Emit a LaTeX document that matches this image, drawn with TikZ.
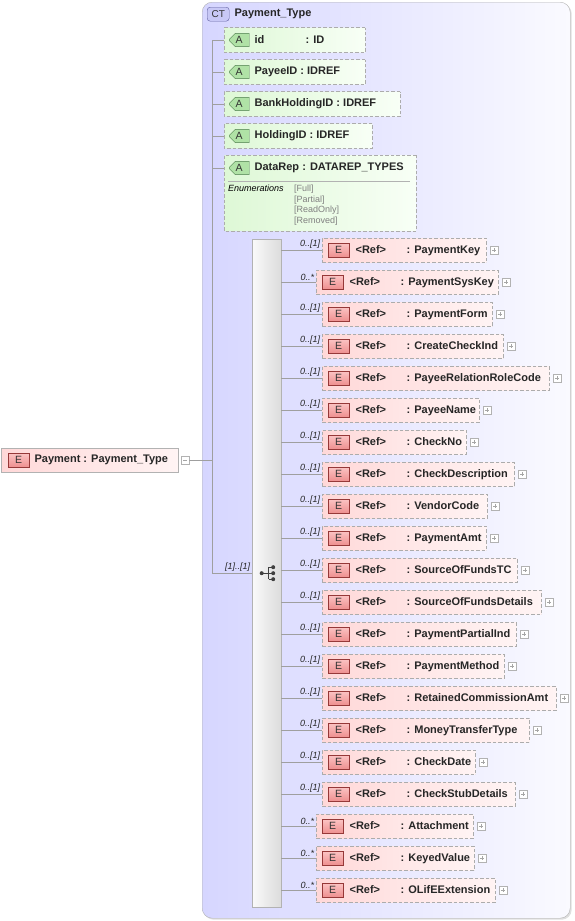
\documentclass[tikz,border=0pt]{standalone}
\usepackage{fontspec}
\setmainfont{Liberation Sans}
\usetikzlibrary{positioning,calc,shapes.misc,shadows}
\definecolor{ctL}{RGB}{214,214,255}
\definecolor{ctR}{RGB}{250,250,255}
\definecolor{ctline}{RGB}{96,96,160}
\definecolor{ctiF}{RGB}{200,200,246}
\definecolor{elemL}{RGB}{255,216,216}
\definecolor{elemR}{RGB}{255,244,244}
\definecolor{eline}{RGB}{150,56,56}
\definecolor{eiconT}{RGB}{252,196,196}
\definecolor{eiconB}{RGB}{238,144,144}
\definecolor{attrL}{RGB}{222,248,214}
\definecolor{attrR}{RGB}{248,255,246}
\definecolor{aline}{RGB}{76,124,76}
\definecolor{aiconF}{RGB}{176,226,166}

\begin{document}
\begin{tikzpicture}[x=1pt, y=-1pt,
  every node/.style={inner sep=0pt},
  txt/.style={font=\fontsize{11}{13}\selectfont\bfseries, text=black!85},
  occ/.style={font=\fontsize{9}{10}\selectfont\itshape, text=black!85, inner sep=1.5pt},
  conn/.style={draw=gray!75, line width=0.6pt},
  dashbox/.style={draw=gray!65, line width=0.8pt, dash pattern=on 3.5pt off 2pt},
  elem/.style={dashbox, left color=elemL, right color=elemR, minimum height=24pt,
    drop shadow={shadow xshift=1pt, shadow yshift=-1pt, opacity=.15}},
  eicon/.style={draw=eline, top color=eiconT, bottom color=eiconB, minimum width=21pt,
    minimum height=14pt, font=\fontsize{10.5}{12}\selectfont, text=black!80},
  attr/.style={dashbox, chamfered rectangle, chamfered rectangle corners={north west,south west},
    chamfered rectangle xsep=5pt, chamfered rectangle ysep=6pt, left color=attrL,
    right color=attrR, minimum height=25pt},
  aicon/.style={draw=aline, fill=aiconF, chamfered rectangle,
    chamfered rectangle corners={north west,south west}, chamfered rectangle xsep=3pt,
    chamfered rectangle ysep=3pt, minimum width=20pt, minimum height=13pt,
    font=\fontsize{10.5}{12}\selectfont, text=black!80},
  ctbox/.style={draw=gray!60, rounded corners=10pt, left color=ctL, right color=ctR,
    drop shadow={shadow xshift=1.5pt, shadow yshift=-1.5pt, opacity=.25}},
  cticon/.style={draw=ctline, fill=ctiF, rounded corners=3pt, minimum width=22pt,
    minimum height=14pt, font=\fontsize{10}{12}\selectfont, text=black!80},
  seqbar/.style={draw=gray!60, left color=gray!4, right color=gray!28,
    drop shadow={shadow xshift=1pt, shadow yshift=-1pt, opacity=.2}},
  sqbox/.style={draw=gray!60, fill=white, minimum size=8pt, line width=0.5pt},
  minusbox/.style={sqbox, path picture={\draw[gray!70, line width=0.5pt]
    ([xshift=2pt]path picture bounding box.west) -- ([xshift=-2pt]path picture bounding box.east);}},
  plusbox/.style={sqbox, path picture={\draw[gray!70, line width=0.5pt]
    ([xshift=2pt]path picture bounding box.west) -- ([xshift=-2pt]path picture bounding box.east)
    ([yshift=-2pt]path picture bounding box.north) -- ([yshift=2pt]path picture bounding box.south);}},
  enumtxt/.style={font=\fontsize{9}{10.5}\selectfont, align=left},
]
\def\one{0..[1]}
\def\many{0..*}
\useasboundingbox (0,0) rectangle (575,921);

\node[ctbox, anchor=north west, minimum width=368pt, minimum height=916pt] (ct) at (202,2) {};
\node[cticon, anchor=north west] (ct-icon) at (207,7) {CT};
\node[txt, right=5pt of ct-icon] (ct-name) {Payment\_Type};

\coordinate (trunk top) at (212,40);
\coordinate (trunk bot) at (212,573);
\draw[conn] (trunk top) -- (trunk bot);

\foreach \nm/\tp/\rx [count=\i from 0] in {{\makebox[48pt][l]{id}}/ID/365,
    PayeeID/IDREF/365, BankHoldingID/IDREF/400, HoldingID/IDREF/372} {
  \pgfmathsetmacro\yy{40+32*\i}
  \node[attr, anchor=west, minimum width={(\rx-224)*1pt}] (a\i) at (224,\yy) {};
  \node[aicon, right=5pt of a\i.west] (a\i-icon) {A};
  \node[txt, right=5pt of a\i-icon] (a\i-name) {\nm\ : \tp};
  \draw[conn] (trunk top |- a\i.west) -- (a\i.west);
}

\node[attr, anchor=west, minimum width=192pt, minimum height=76pt] (a4) at (224,193) {};
\coordinate (a4-head) at (224,168);
\node[aicon, right=5pt of a4-head] (a4-icon) {A};
\node[txt, right=5pt of a4-icon] (a4-name) {DataRep : DATAREP\_TYPES};
\draw[gray!60, line width=0.6pt] (228,181.5) -- (410,181.5);
\node[enumtxt, font=\fontsize{9}{10.5}\selectfont\itshape, anchor=north west] (a4-enum) at (228,185) {Enumerations};
\node[enumtxt, text=gray, anchor=north west] (a4-vals) at (294,185)
  {[Full]\\{}[Partial]\\{}[ReadOnly]\\{}[Removed]};
\draw[conn] (trunk top |- a4-head) -- (a4-head);

\node[seqbar, anchor=north west, minimum width=29pt, minimum height=668pt] (seq) at (252,239) {};
\begin{scope}[shift={(seq.center)}]
  \draw[black!75, line width=0.9pt] (-5,0) -- (2,0) (2,-6) -- (2,6)
    (2,-6) -- (6.5,-6) (2,6) -- (6.5,6) (2,0) -- (6.5,0);
  \fill[black!75] (-5,0) circle[radius=2pt] (6.5,-6) circle[radius=2pt]
    (6.5,0) circle[radius=2pt] (6.5,6) circle[radius=2pt];
\end{scope}
\draw[conn] (trunk bot) -- (seq.west |- trunk bot) node[occ, above left] {[1]..[1]};

\foreach \nm/\lx/\rx/\oc [count=\i from 0] in {PaymentKey/322/486/\one,
    PaymentSysKey/316/498/\many, PaymentForm/322/492/\one, CreateCheckInd/322/503/\one,
    PayeeRelationRoleCode/322/549/\one, PayeeName/322/479/\one, CheckNo/322/466/\one,
    CheckDescription/322/514/\one, VendorCode/322/487/\one, PaymentAmt/322/486/\one,
    SourceOfFundsTC/322/517/\one, SourceOfFundsDetails/322/541/\one,
    PaymentPartialInd/322/516/\one, PaymentMethod/322/504/\one,
    RetainedCommissionAmt/322/556/\one, MoneyTransferType/322/529/\one,
    CheckDate/322/475/\one, CheckStubDetails/322/515/\one, Attachment/316/473/\many,
    KeyedValue/316/474/\many, OLifEExtension/316/495/\many} {
  \pgfmathsetmacro\yy{250+32*\i}
  \node[elem, anchor=west, minimum width={(\rx-\lx)*1pt}] (e\i) at (\lx,\yy) {};
  \node[eicon, right=6pt of e\i.west] (e\i-icon) {E};
  \node[txt, right=6pt of e\i-icon] (e\i-ref) {<Ref>};
  \node[txt, anchor=base west] (e\i-name) at ($(e\i-ref.base west)+(51,0)$) {: \nm};
  \node[plusbox, right=3pt of e\i] (e\i-plus) {};
  \draw[conn] (seq.east |- e\i.west) -- (e\i.west) node[occ, above left] {\oc};
}

\node[elem, solid, draw=gray!60, anchor=west, minimum width=177pt] (pay) at (1,460) {};
\node[eicon, right=7pt of pay.west] (pay-icon) {E};
\node[txt, right=5pt of pay-icon] (pay-name) {Payment : Payment\_Type};
\node[minusbox, right=2pt of pay] (pay-minus) {};
\draw[conn] (pay-minus.east) -- (pay-minus -| trunk top);
\end{tikzpicture}
\end{document}
